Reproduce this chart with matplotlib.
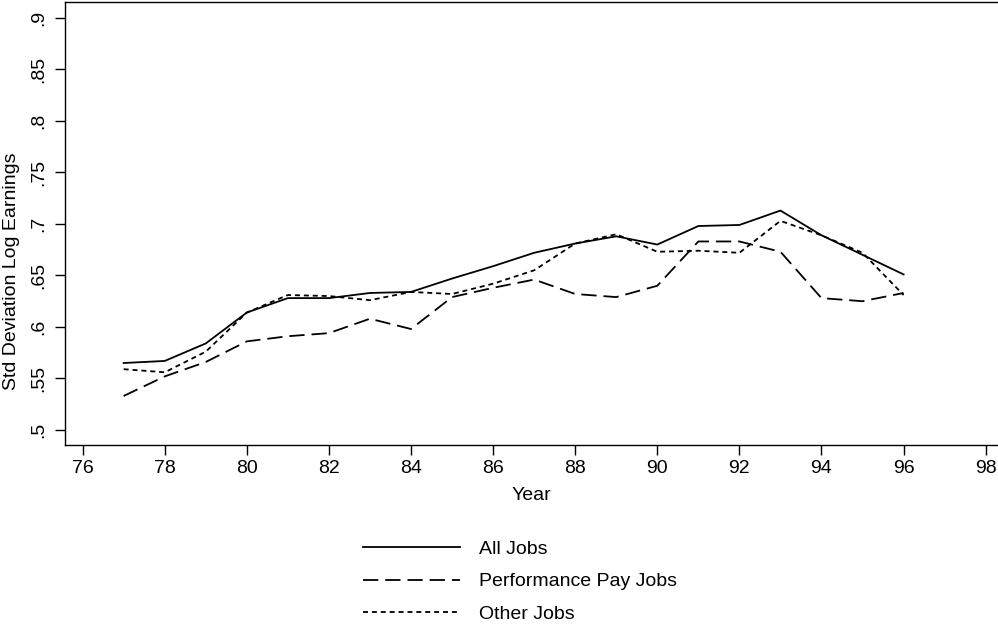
import matplotlib
matplotlib.use('Agg')
import matplotlib.pyplot as plt

plt.rcParams['font.family'] = ['Liberation Sans', 'DejaVu Sans']
plt.rcParams['lines.scale_dashes'] = False

# 数据
years = [77, 78, 79, 80, 81, 82, 83, 84, 85, 86, 87, 88, 89, 90, 91, 92, 93, 94, 95, 96]
all_jobs = [0.565, 0.567, 0.584, 0.614, 0.628, 0.628, 0.633, 0.634, 0.647, 0.659,
            0.672, 0.681, 0.688, 0.680, 0.698, 0.699, 0.713, 0.689, 0.670, 0.651]
perf_jobs = [0.533, 0.552, 0.566, 0.586, 0.591, 0.594, 0.608, 0.598, 0.629, 0.638,
             0.646, 0.632, 0.629, 0.640, 0.683, 0.683, 0.673, 0.628, 0.625, 0.633]
other_jobs = [0.559, 0.556, 0.576, 0.614, 0.631, 0.630, 0.626, 0.634, 0.632, 0.642,
              0.655, 0.681, 0.690, 0.673, 0.674, 0.672, 0.703, 0.689, 0.672, 0.631]

xticks = list(range(76, 100, 2))
yticks = [0.5, 0.55, 0.6, 0.65, 0.7, 0.75, 0.8, 0.85, 0.9]
ylabels = ['.5', '.55', '.6', '.65', '.7', '.75', '.8', '.85', '.9']

fig = plt.figure(figsize=(9.98, 6.35), dpi=100)
ax = fig.add_axes([0.0651, 0.2992, 0.9349, 0.6977])

lw = 1.3
l1, = ax.plot(years, all_jobs, color='black', lw=lw, label='All Jobs')
l2, = ax.plot(years, perf_jobs, color='black', lw=lw, label='Performance Pay Jobs',
              dashes=(11, 5))
l3, = ax.plot(years, other_jobs, color='black', lw=lw, label='Other Jobs',
              dashes=(3.6, 2.8))

ax.set_xlim(75.57, 98.3)
ax.set_ylim(0.4854, 0.9155)
ax.set_xticks(xticks)
ax.set_xticklabels([str(x) for x in xticks], fontsize=14)
ax.set_yticks(yticks)
ax.set_yticklabels(ylabels, fontsize=14, rotation=90, va='center')
ax.tick_params(direction='out', length=7, width=1, color='black')
ax.tick_params(axis='x', pad=4)
ax.tick_params(axis='y', pad=6)
ax.spines['right'].set_visible(False)
for s in ax.spines.values():
    s.set_linewidth(1)
ax.set_xlabel('Year', fontsize=14, labelpad=7)
ax.set_ylabel('Std Deviation Log Earnings', fontsize=14)
ax.yaxis.set_label_coords(-0.048, 0.393)

# 图例放在下方
fig.legend(handles=[l1, l2, l3], loc='upper left', bbox_to_anchor=(0.3637, 0.149),
           frameon=False, fontsize=14, handlelength=5.0, labelspacing=0.76,
           handletextpad=0.95, borderpad=0, borderaxespad=0)

plt.savefig('out.png', dpi=100)
